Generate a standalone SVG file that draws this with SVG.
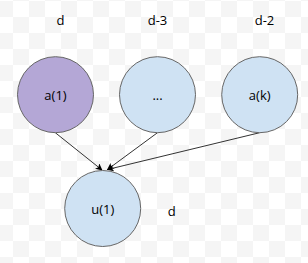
<svg xmlns="http://www.w3.org/2000/svg" width="308" height="263" viewBox="0 0 308 263">
<defs>
<pattern id="chk" x="-3" y="1" width="32" height="32" patternUnits="userSpaceOnUse">
<rect width="32" height="32" fill="#ffffff"/>
<rect width="16" height="16" fill="#f5f5f5"/>
<rect x="16" y="16" width="16" height="16" fill="#f5f5f5"/>
</pattern>
<marker id="arr" viewBox="0 0 10 10" refX="9" refY="5" markerWidth="7" markerHeight="7" markerUnits="userSpaceOnUse" orient="auto">
<path d="M0,0 L10,5 L0,10 L2.5,5 Z" fill="#000"/>
</marker>
<style>
.n{stroke:#666;stroke-width:1}
.p{fill:#b4a7d6}
.b{fill:#cfe2f3}
text{font-family:"Open Sans","Segoe UI","DejaVu Sans",sans-serif;font-size:13px;fill:#000;text-anchor:middle}
.e{stroke:#333;stroke-width:1;fill:none;marker-end:url(#arr)}
</style>
</defs>
<rect width="308" height="263" fill="url(#chk)"/>
<g id="labels">
<text x="60.5" y="25">d</text>
<text x="157.5" y="25">d-3</text>
<text x="264.5" y="25">d-2</text>
<text x="171.7" y="216">d</text>
</g>
<g id="connectors">
<path class="e" d="M55.3,132.7 L102,170"/>
<path class="e" d="M157.5,132.7 L107.5,169.5"/>
<path class="e" d="M259.7,132.7 L107.5,169.5"/>
</g>
<g id="node-a1">
<circle class="n p" cx="55.5" cy="94.7" r="38"/>
<text x="55.5" y="99.5">a(1)</text>
</g>
<g id="node-dots">
<circle class="n b" cx="157.5" cy="94.7" r="38"/>
<text x="157.5" y="99.5">...</text>
</g>
<g id="node-ak">
<circle class="n b" cx="259.7" cy="94.7" r="38"/>
<text x="259.7" y="99.5">a(k)</text>
</g>
<g id="node-u1">
<circle class="n b" cx="102.7" cy="208.5" r="38"/>
<text x="102.7" y="213.5">u(1)</text>
</g>
</svg>
